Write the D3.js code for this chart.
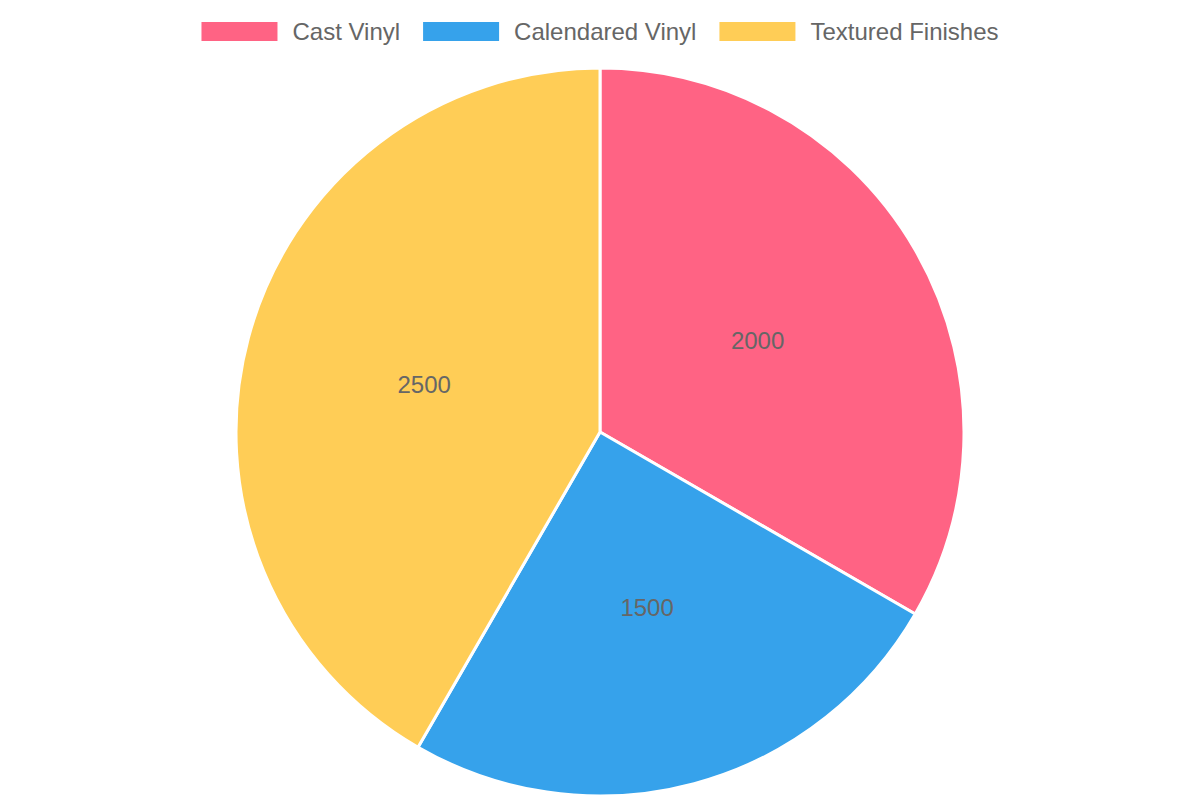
<!DOCTYPE html>
<html>
<head>
<meta charset="utf-8">
<script src="https://cdn.jsdelivr.net/npm/d3@7"></script>
<style>
  body { margin: 0; background: #fff; }
  svg { display: block; }
</style>
</head>
<body>
<div id="chart"></div>
<script>
const categories = ['Cast Vinyl', 'Calendared Vinyl', 'Textured Finishes'];
const values = [2000, 1500, 2500];
const colors = ['#FF6384', '#36A2EB', '#FFCD56'];

const width = 1200, height = 800;
const cx = 600, cy = 432, radius = 364;
const font = '"Liberation Sans", Arial, sans-serif';

const svg = d3.select('#chart').append('svg')
  .attr('width', width)
  .attr('height', height);

const data = categories.map((c, i) => ({ name: c, value: values[i], color: colors[i] }));

const pie = d3.pie().sort(null).value(d => d.value);
const arc = d3.arc().innerRadius(0).outerRadius(radius);
const labelArc = d3.arc().innerRadius(radius / 2).outerRadius(radius / 2);

const g = svg.append('g').attr('transform', `translate(${cx},${cy})`);

g.selectAll('path')
  .data(pie(data))
  .join('path')
  .attr('d', arc)
  .attr('fill', d => d.data.color)
  .attr('stroke', '#fff')
  .attr('stroke-width', 3)
  .attr('stroke-linejoin', 'round');

g.selectAll('text')
  .data(pie(data))
  .join('text')
  .attr('transform', d => {
    const [x, y] = labelArc.centroid(d);
    return `translate(${x},${y})`;
  })
  .attr('text-anchor', 'middle')
  .attr('dy', '0.35em')
  .attr('font-family', font)
  .attr('font-size', 24)
  .attr('fill', '#666')
  .text(d => d.data.value);

// legend
const boxW = 76, boxH = 19, textGap = 15, itemGap = 23;
const legend = svg.append('g');
const items = legend.selectAll('g')
  .data(data)
  .join('g');

items.append('rect')
  .attr('width', boxW)
  .attr('height', boxH)
  .attr('y', 22)
  .attr('fill', d => d.color);

items.append('text')
  .attr('x', boxW + textGap)
  .attr('y', 32)
  .attr('dy', '0.35em')
  .attr('font-family', font)
  .attr('font-size', 24)
  .attr('fill', '#666')
  .text(d => d.name);

let offset = 0;
const offsets = [];
items.each(function () {
  const w = boxW + textGap + this.querySelector('text').getComputedTextLength();
  offsets.push(offset);
  offset += w + itemGap;
});
const total = offset - itemGap;
const startX = (width - total) / 2;
items.attr('transform', (d, i) => `translate(${startX + offsets[i]},0)`);
</script>
</body>
</html>
